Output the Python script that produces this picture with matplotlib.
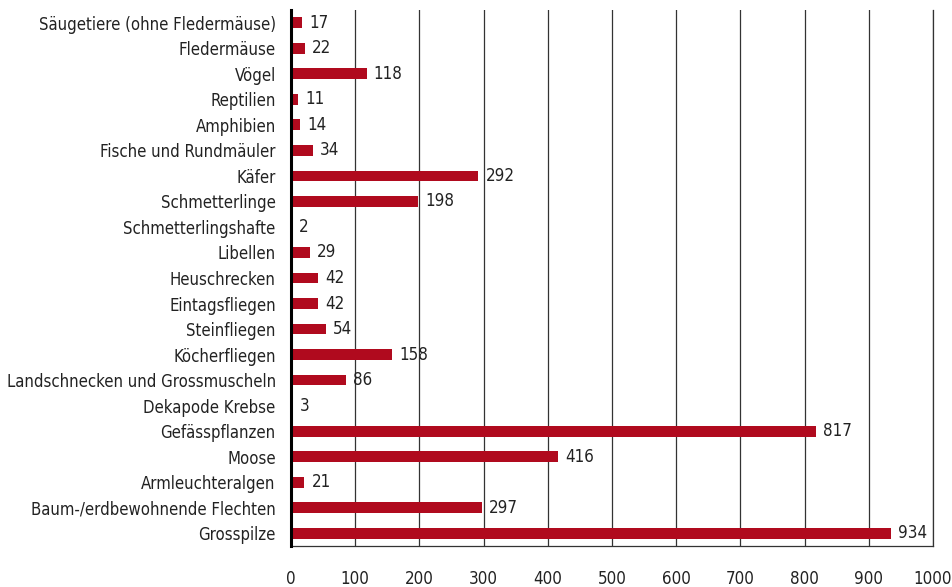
import matplotlib
matplotlib.use("Agg")
import matplotlib.pyplot as plt

plt.rcParams["font.family"] = ["DejaVu Sans"]
plt.rcParams["font.stretch"] = "condensed"

categories = [
    "Säugetiere (ohne Fledermäuse)", "Fledermäuse", "Vögel", "Reptilien",
    "Amphibien", "Fische und Rundmäuler", "Käfer", "Schmetterlinge",
    "Schmetterlingshafte", "Libellen", "Heuschrecken", "Eintagsfliegen",
    "Steinfliegen", "Köcherfliegen", "Landschnecken und Grossmuscheln",
    "Dekapode Krebse", "Gefässpflanzen", "Moose", "Armleuchteralgen",
    "Baum-/erdbewohnende Flechten", "Grosspilze",
]
values = [17, 22, 118, 11, 14, 34, 292, 198, 2, 29, 42, 42, 54, 158, 86, 3,
          817, 416, 21, 297, 934]
xticks = [0, 100, 200, 300, 400, 500, 600, 700, 800, 900, 1000]

fig = plt.figure(figsize=(9.52, 5.87), dpi=100)
ax = fig.add_axes([291 / 952, 1 - 546 / 587, 642 / 952, 536 / 587])

y = list(range(len(categories)))
ax.barh(y, values, height=0.42, color="#b00a1e", zorder=3)
for yi, v in zip(y, values):
    ax.text(v + 11, yi, str(v), va="center", ha="left", fontsize=12.2,
            color="#222222", zorder=4)

ax.set_xlim(0, 1000)
ax.set_ylim(len(categories) - 0.5, -0.5)
ax.set_yticks(y)
ax.set_yticklabels(categories, fontsize=12, color="#222222")
ax.set_xticks(xticks)
ax.set_xticklabels([str(t) for t in xticks], fontsize=12.2, color="#222222")
ax.tick_params(axis="x", length=0, pad=17)
ax.tick_params(axis="y", length=0, pad=11)

ax.grid(axis="x", color="#333333", linewidth=0.9, zorder=1)
ax.axvline(1000, color="#333333", linewidth=0.9, zorder=1, clip_on=False)
for s in ("top", "right"):
    ax.spines[s].set_visible(False)
ax.spines["bottom"].set_color("#333333")
ax.spines["bottom"].set_linewidth(0.9)
ax.spines["left"].set_color("black")
ax.spines["left"].set_linewidth(2.2)
ax.spines["left"].set_zorder(5)

fig.savefig("out.png", dpi=100)
